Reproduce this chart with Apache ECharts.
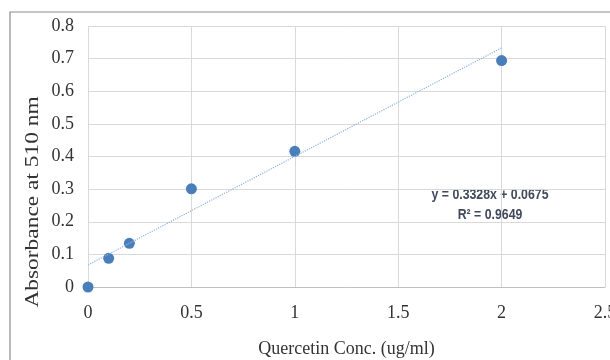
<!DOCTYPE html>
<html>
<head>
<meta charset="utf-8">
<script src="https://cdn.jsdelivr.net/npm/echarts@6/dist/echarts.min.js"></script>
<style>
html, body { margin: 0; padding: 0; background: #fff; }
#chart { width: 610px; height: 360px; }
</style>
</head>
<body>
<div id="chart"></div>
<script>
// concentration (ug/ml) and absorbance
var conc = [0, 0.1, 0.2, 0.5, 1, 2];
var absorbance = [0, 0.088, 0.134, 0.301, 0.416, 0.694];
// trendline end points, y = 0.3328x + 0.0675
var trendX = [0, 2];
var trendY = [0.0675, 0.733];
var equationText = ['y = 0.3328x + 0.0675', 'R² = 0.9649'];

var points = conc.map(function (x, i) { return [x, absorbance[i]]; });
var trend = trendX.map(function (x, i) { return [x, trendY[i]]; });

var chart = echarts.init(document.getElementById('chart'));
var option = {
	animation: false,
	grid: { left: 88, right: 5, top: 26, bottom: 73, containLabel: false, outerBoundsMode: 'none' },
	xAxis: {
		type: 'value',
		min: 0, max: 2.5, interval: 0.5,
		name: 'Quercetin Conc. (ug/ml)',
		nameLocation: 'middle',
		nameGap: 53,
		nameTextStyle: { fontFamily: 'Liberation Serif', fontSize: 18, color: '#333' },
		axisLine: { show: true, lineStyle: { color: '#bfbfbf' } },
		axisTick: { show: false },
		axisLabel: { fontFamily: 'Liberation Serif', fontSize: 18, color: '#333', margin: 17 },
		splitLine: { show: true, lineStyle: { color: '#d9d9d9' } }
	},
	yAxis: {
		type: 'value',
		min: 0, max: 0.8, interval: 0.1,
		axisLine: { show: false },
		axisTick: { show: false },
		axisLabel: { fontFamily: 'Liberation Serif', fontSize: 18, color: '#333', margin: 14 },
		splitLine: { show: true, lineStyle: { color: '#d9d9d9' } }
	},
	series: [
		{
			type: 'line',
			data: trend,
			symbol: 'none',
			silent: true,
			lineStyle: { color: '#8eb1de', width: 1.2, type: 'dotted' }
		},
		{
			type: 'scatter',
			data: points,
			symbolSize: 11,
			itemStyle: { color: '#4a7ebb', opacity: 1 }
		}
	],
	graphic: [
		{
			type: 'rect',
			shape: { x: 10, y: 12, width: 700, height: 400 },
			style: { fill: 'none', stroke: '#8c8c8c', lineWidth: 1.2 },
			silent: true
		},
		{
			type: 'text',
			x: 33, y: 202,
			rotation: Math.PI / 2,
			scaleX: 1.3,
			style: {
				text: 'Absorbance at 510 nm',
				fontFamily: 'Liberation Serif', fontSize: 18, fill: '#333',
				align: 'center', verticalAlign: 'middle'
			}
		},
		{
			type: 'text',
			x: 490, y: 195,
			scaleX: 0.82,
			style: {
				text: equationText[0],
				fontFamily: 'Liberation Sans', fontSize: 15, fontWeight: 'bold', fill: '#404a5a',
				align: 'center', verticalAlign: 'middle'
			}
		},
		{
			type: 'text',
			x: 490, y: 215,
			scaleX: 0.82,
			style: {
				text: equationText[1],
				fontFamily: 'Liberation Sans', fontSize: 15, fontWeight: 'bold', fill: '#404a5a',
				align: 'center', verticalAlign: 'middle'
			}
		}
	]
};
chart.setOption(option);
</script>
</body>
</html>
